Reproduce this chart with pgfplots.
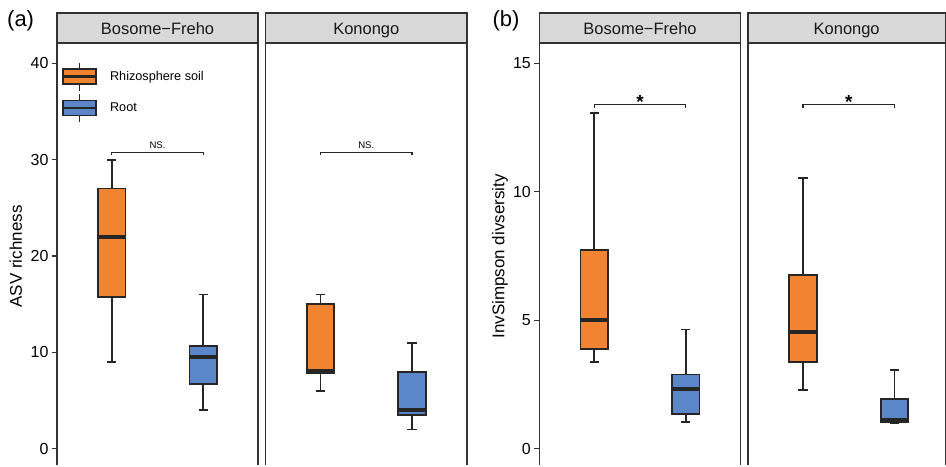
\documentclass[border=0pt]{standalone}
\usepackage{fontspec}
\setmainfont{Liberation Sans}
\usepackage{pgfplots}
\pgfplotsset{compat=1.18}
\usepgfplotslibrary{statistics}

\definecolor{orng}{HTML}{F28330}
\definecolor{blu}{HTML}{5B87C9}
\definecolor{edge}{HTML}{262626}
\definecolor{framecol}{HTML}{333333}
\definecolor{stripcol}{HTML}{D9D9D9}

\pgfplotsset{
  facet/.style={
    scale only axis, width=201.5pt, height=423pt,
    xmin=0.4, xmax=2.6,
    hide x axis,
    axis line style={draw=framecol, line width=1.4pt},
    ytick pos=left, tick align=outside, major tick length=5pt,
    ytick style={draw=framecol, line width=1.4pt},
    yticklabel style={font=\fontsize{16}{16}\selectfont, text=black},
    /pgf/number format/assume math mode=true,
    boxplot/draw direction=y,
    boxplot/box extend=0.3,
    boxplot/whisker extend=0.1,
    boxplot/every median/.style={line width=4.2pt},
    clip=false,
  },
  richness/.style={facet, ymin=-1.73, ymax=42.11, ytick={0,10,20,30,40}},
  invsimp/.style={facet, ymin=-0.649, ymax=15.79, ytick={0,5,10,15}},
  bkt/.style={draw=edge, line width=1.1pt, forget plot},
}
\tikzset{
  star/.style={anchor=base, font=\fontsize{19}{19}\selectfont\bfseries, inner sep=0pt},
  ns/.style={anchor=base, font=\fontsize{9.6}{10}\selectfont, inner sep=0pt},
}

% one box: colour, position, lower whisker, Q1, median, Q3, upper whisker
\newcommand{\bx}[7]{%
  \addplot[forget plot, fill=#1, draw=edge, line width=1.8pt,
    boxplot prepared={draw position=#2, lower whisker=#3, lower quartile=#4,
      median=#5, upper quartile=#6, upper whisker=#7}] coordinates {};}

\newcommand{\strip}[2]{%
  \draw[fill=stripcol, draw=framecol, line width=1.4pt]
    (#1.north west) rectangle ([yshift=30pt]#1.north east);
  \node[anchor=base, font=\fontsize{16.5}{16.5}\selectfont, text=black!90]
    at ([yshift=8pt]#1.north) {#2};}

\newcommand{\keyimg}[1]{%
  \draw[edge, line width=1.3pt] (16.5pt,-14pt)--(16.5pt,14pt);
  \draw[fill=#1, draw=edge, line width=1.4pt] (0pt,-7.5pt) rectangle (33pt,7.5pt);
  \draw[edge, line width=2.4pt] (0pt,0pt)--(33pt,0pt);
  \path[draw=none, fill=none] (0pt,0pt)--(47pt,0pt);}

\begin{document}
\begin{tikzpicture}
\path[draw=none, fill=none] (0pt,0pt) rectangle (946pt,466pt);

% ---------- (a) ASV richness ----------
\begin{axis}[richness, name=a1, at={(57pt,423pt)}, anchor=north west,
  legend style={at={(axis description cs:0.0249,0.955)}, anchor=north west,
    draw=none, fill=none, inner sep=0pt, outer sep=0pt, row sep=2pt,
    font=\fontsize{12.7}{14}\selectfont, nodes={inner sep=0pt}},
  legend cell align=left]
  \addlegendimage{legend image code/.code={\keyimg{orng}}}
  \addlegendentry{Rhizosphere soil}
  \addlegendimage{legend image code/.code={\keyimg{blu}}}
  \addlegendentry{Root}
  \bx{orng}{1}{9}{15.75}{22}{27}{30}
  \bx{blu}{2}{4}{6.7}{9.5}{10.7}{16}
  \addplot[bkt] coordinates {(1,30.44) (1,30.78) (2,30.78) (2,30.44)};
  \node[ns] at (axis cs:1.5,31.19) {NS.};
\end{axis}

\begin{axis}[richness, name=a2, at={(266pt,423pt)}, anchor=north west, ytick=\empty]
  \bx{orng}{1}{6}{7.85}{8.05}{15}{16}
  \bx{blu}{2}{2}{3.5}{4}{8}{11}
  \addplot[bkt] coordinates {(1,30.44) (1,30.78) (2,30.78) (2,30.44)};
  \node[ns] at (axis cs:1.5,31.19) {NS.};
\end{axis}

% ---------- (b) InvSimpson diversity ----------
\begin{axis}[invsimp, name=b1, at={(540pt,423pt)}, anchor=north west, width=201.7pt]
  \bx{orng}{1}{3.38}{3.89}{5.0}{7.72}{13.05}
  \bx{blu}{2}{1.03}{1.36}{2.33}{2.89}{4.64}
  \addplot[bkt] coordinates {(1,13.27) (1,13.38) (2,13.38) (2,13.27)};
  \node[star] at (axis cs:1.5,13.22) {*};
\end{axis}

% right facet runs to the edge of the figure
\begin{axis}[invsimp, name=b2, at={(749pt,423pt)}, anchor=north west,
  width=197.5pt, xmax=2.554, ytick=\empty]
  \bx{orng}{1}{2.29}{3.38}{4.55}{6.77}{10.53}
  \bx{blu}{2}{1.0}{1.05}{1.12}{1.92}{3.06}
  \addplot[bkt] coordinates {(1,13.27) (1,13.38) (2,13.38) (2,13.27)};
  \node[star] at (axis cs:1.5,13.22) {*};
\end{axis}

% facet strips
\strip{a1}{Bosome−Freho}
\strip{a2}{Konongo}
\strip{b1}{Bosome−Freho}
\strip{b2}{Konongo}

% axis titles and panel tags
\node[rotate=90, anchor=base, font=\fontsize{17}{17}\selectfont] at (22pt,209.3pt) {ASV richness};
\node[rotate=90, anchor=base, font=\fontsize{17}{17}\selectfont] at (505pt,209.3pt) {InvSimpson divsersity};
\node[anchor=west, inner sep=0pt, font=\fontsize{22}{22}\selectfont] at (7pt,445pt) {(a)};
\node[anchor=west, inner sep=0pt, font=\fontsize{22}{22}\selectfont] at (493pt,445pt) {(b)};
\end{tikzpicture}
\end{document}
